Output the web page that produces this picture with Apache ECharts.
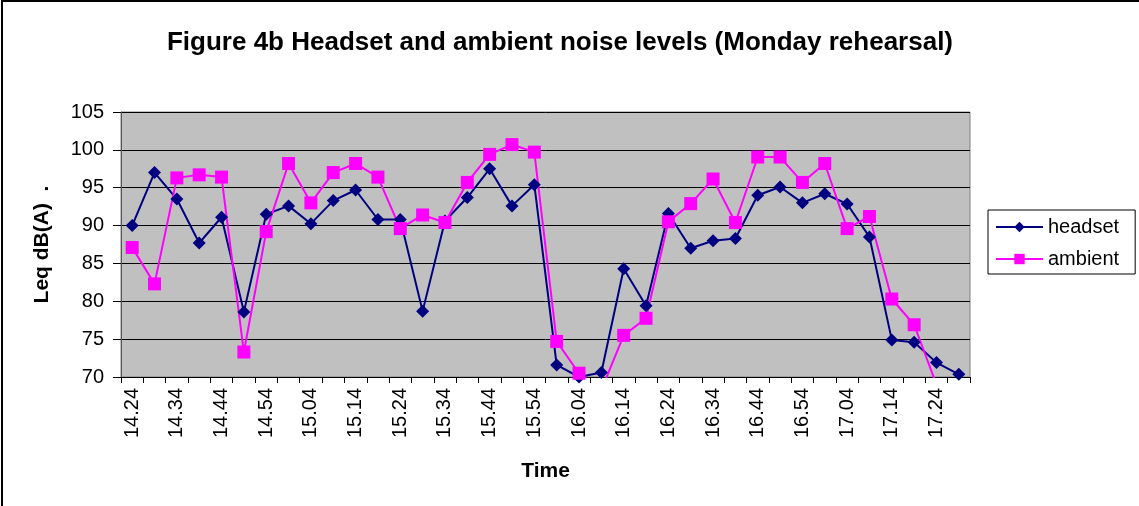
<!DOCTYPE html>
<html>
<head>
<meta charset="utf-8">
<script src="https://cdn.jsdelivr.net/npm/echarts@6/dist/echarts.min.js"></script>
<style>
  html, body { margin: 0; padding: 0; background: #fff; }
  #chart { width: 1139px; height: 506px; }
</style>
</head>
<body>
<div id="chart"></div>
<script>
// time of each reading
var times = ['14.24', '14.29', '14.34', '14.39', '14.44', '14.49', '14.54', '14.59',
  '15.04', '15.09', '15.14', '15.19', '15.24', '15.29', '15.34', '15.39', '15.44', '15.49',
  '15.54', '15.59', '16.04', '16.09', '16.14', '16.19', '16.24', '16.29', '16.34', '16.39',
  '16.44', '16.49', '16.54', '16.59', '17.04', '17.09', '17.14', '17.19', '17.24', '17.29'];
// headset levels
var headset = [90.0, 97.0, 93.5, 87.7, 91.1, 78.6, 91.5, 92.6, 90.25, 93.3, 94.7, 90.8,
  90.8, 78.7, 90.6, 93.7, 97.5, 92.6, 95.4, 71.6, 70.0, 70.6, 84.3, 79.4, 91.6, 87.0,
  88.0, 88.3, 94.0, 95.1, 93.0, 94.2, 92.85, 88.5, 74.9, 74.6, 71.9, 70.35];
// ambient levels
var ambient = [87.1, 82.3, 96.3, 96.7, 96.4, 73.3, 89.2, 98.2, 93.0, 97.0, 98.2, 96.4,
  89.6, 91.4, 90.4, 95.7, 99.4, 100.7, 99.7, 74.7, 70.5, 68.3, 75.5, 77.75, 90.5, 92.9,
  96.15, 90.4, 99.05, 99.05, 95.7, 98.2, 89.6, 91.2, 80.3, 76.9, 69.0, null];
// y axis range
var yMin = 70;
var yMax = 105;
var yStep = 5;

var font = 'Liberation Sans, Arial, sans-serif';
var chart = echarts.init(document.getElementById('chart'));

var option = {
  animation: false,
  // outer frame (right/bottom edges run off the picture)
  graphic: [{
    type: 'rect',
    shape: { x: 2, y: 1, width: 1200, height: 600 },
    style: { fill: 'none', stroke: '#000', lineWidth: 2 },
    silent: true
  }],
  title: {
    text: 'Figure 4b Headset and ambient noise levels (Monday rehearsal)',
    left: 555,
    top: 25,
    textAlign: 'center',
    textStyle: { fontFamily: font, fontSize: 26, fontWeight: 'bold', color: '#000' }
  },
  legend: {
    orient: 'vertical',
    left: 988,
    top: 210,
    padding: [7, 16, 5, 7],
    itemGap: 12,
    itemWidth: 47,
    itemHeight: 13,
    borderColor: '#000',
    borderWidth: 1,
    textStyle: { fontFamily: font, fontSize: 20, color: '#000' },
    data: ['headset', 'ambient']
  },
  grid: {
    left: 121,
    top: 112,
    right: 169,
    bottom: 129,
    show: true,
    backgroundColor: '#c0c0c0',
    borderColor: '#808080',
    borderWidth: 1
  },
  xAxis: {
    type: 'category',
    data: times,
    boundaryGap: true,
    name: 'Time',
    nameLocation: 'middle',
    nameGap: 84,
    nameTextStyle: { fontFamily: font, fontSize: 21, fontWeight: 'bold', color: '#000' },
    axisLine: { lineStyle: { color: '#000', width: 1 } },
    axisTick: { show: true, interval: 0, length: 6, lineStyle: { color: '#000' } },
    axisLabel: {
      interval: 1,
      rotate: 90,
      margin: 11,
      fontFamily: font,
      fontSize: 20,
      color: '#000'
    }
  },
  yAxis: {
    type: 'value',
    min: yMin,
    max: yMax,
    interval: yStep,
    name: 'Leq dB(A)  .',
    nameLocation: 'middle',
    nameGap: 68,
    nameTextStyle: { fontFamily: font, fontSize: 21, fontWeight: 'bold', color: '#000' },
    axisLine: { show: true, lineStyle: { color: '#555', width: 1 } },
    axisTick: { show: true, length: 8, inside: false, lineStyle: { color: '#000' } },
    splitLine: { lineStyle: { color: '#000', width: 1 } },
    axisLabel: { fontFamily: font, fontSize: 20, color: '#000', margin: 17 }
  },
  series: [{
    name: 'headset',
    type: 'line',
    data: headset,
    clip: true,
    symbol: 'diamond',
    symbolSize: 13,
    color: '#000080',
    lineStyle: { color: '#000080', width: 2 },
    itemStyle: { color: '#000080' }
  }, {
    name: 'ambient',
    type: 'line',
    data: ambient,
    clip: true,
    connectNulls: false,
    symbol: 'rect',
    symbolSize: 13,
    color: '#ff00ff',
    lineStyle: { color: '#ff00ff', width: 2 },
    itemStyle: { color: '#ff00ff' }
  }]
};

chart.setOption(option);
</script>
</body>
</html>
